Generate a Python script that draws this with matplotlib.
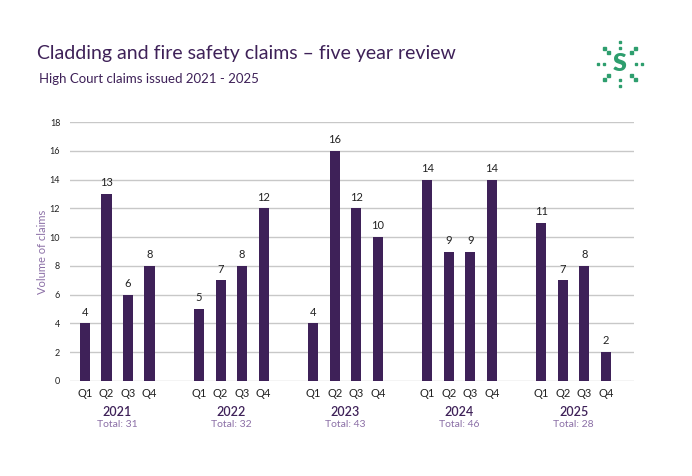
import numpy as np
import matplotlib.pyplot as plt

years = ["2021", "2022", "2023", "2024", "2025"]
quarters = ["Q1", "Q2", "Q3", "Q4"]
claims = [
    [4, 13, 6, 8],
    [5, 7, 8, 12],
    [4, 16, 12, 10],
    [14, 9, 9, 14],
    [11, 7, 8, 2],
]
totals = [31, 32, 43, 46, 28]

plt.rcParams['font.family'] = ['Lato', 'DejaVu Sans']
purple = "#3e2158"
light_purple = "#8b6fa6"

fig = plt.figure(figsize=(6.92, 4.76), dpi=100)
ax = fig.add_axes([0.101, 0.1996, 0.815, 0.544])

group_step = 5.3
xs = []
for g, vals in enumerate(claims):
    pos = g * group_step + np.arange(4)
    xs.extend(pos)
    ax.bar(pos, vals, width=0.47, color=purple, zorder=3)
    for p, v in zip(pos, vals):
        ax.text(p, v + 0.4, str(v), ha="center", va="bottom", fontsize=8, color="#222222")
    mid = pos.mean()
    ax.text(mid, -1.75, years[g], ha="center", va="top", fontsize=9, color=purple, fontweight="semibold")
    ax.text(mid, -2.7, "Total: %d" % totals[g], ha="center", va="top", fontsize=7.5, color=light_purple)

ax.set_xticks(xs)
ax.set_xticklabels(quarters * len(years), fontsize=8, color="#222222")
ax.tick_params(axis="x", length=0, pad=5)
ax.set_xlim(-0.7, 25.5)
ax.set_ylim(0, 18)
ax.set_yticks(range(0, 19, 2))
ax.tick_params(axis="y", length=0, labelsize=6.5, labelcolor="#222222", pad=7)
ax.grid(axis="y", color="#c8c8c8", linewidth=1, zorder=0)
for s in ax.spines.values():
    s.set_visible(False)
ax.set_ylabel("Volume of claims", fontsize=8, color=light_purple)
ax.yaxis.set_label_coords(-0.038, 0.5)

fig.text(37 / 692, 1 - 53 / 476, "Cladding and fire safety claims \u2013 five year review",
         fontsize=14, color=purple, va="center")
fig.text(39 / 692, 1 - 79 / 476, "High Court claims issued 2021 - 2025",
         fontsize=9.5, color=purple, va="center")

# logo
green = "#2e9e6e"
lx, ly = 620 / 692, 1 - 64 / 476
fig.text(lx, ly, "S", fontsize=18, fontweight="heavy", color=green, ha="center", va="center")
ang = np.linspace(0, 2 * np.pi, 8, endpoint=False) + np.pi / 2
for a in ang:
    for r in (16, 22):
        fig.patches.append(plt.Rectangle((lx + r * np.cos(a) / 692 - 1.2 / 692, ly + r * np.sin(a) / 476 - 1.2 / 476),
                                         2.4 / 692, 2.4 / 476, transform=fig.transFigure,
                                         color=green, figure=fig))

fig.savefig("out.png", dpi=100)
